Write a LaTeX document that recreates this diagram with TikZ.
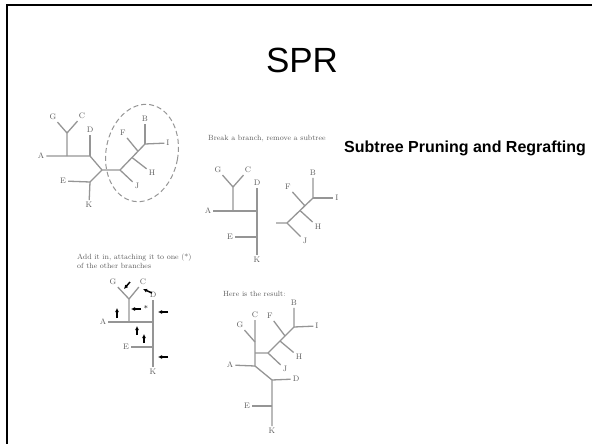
\documentclass[tikz,border=0pt]{standalone}
\usepackage{fontspec}
\setsansfont{Liberation Sans}
\usetikzlibrary{arrows.meta}
\definecolor{sprGrey}{HTML}{959595}
\definecolor{sprText}{HTML}{5E5E5E}

\begin{document}
\begin{tikzpicture}[x=1pt, y=-1pt,
  br/.style={draw=sprGrey, line width=1.3pt},
  lbl/.style={text=sprText, font=\fontsize{8}{9}\selectfont, inner sep=2pt},
  note/.style={text=sprText, font=\fontsize{7.5}{9}\selectfont, inner sep=0pt, align=left},
  mv/.style={-{Latex[length=4pt,width=4pt]}, line width=1.5pt, black}]
  \useasboundingbox (0,0) rectangle (592,444);
  \clip (0,0) rectangle (592,444);
  \draw[line width=2pt] (7,460) -- (7,5) -- (610,5);

  \node[font=\sffamily\fontsize{35}{40}\selectfont, anchor=base] (ttl) at (302,73) {SPR};
  \node[font=\sffamily\bfseries\fontsize{16}{18}\selectfont, anchor=base west, inner sep=0pt] (sub) at (344,152) {Subtree Pruning and Regrafting};

  % original tree
  \coordinate (a1) at (67,156);
  \coordinate (gc1) at (67,133);
  \coordinate (d1) at (90,156);
  \coordinate (x1) at (102,170);
  \coordinate (e1) at (90,182);
  \coordinate (r1) at (120,170);
  \coordinate (h1) at (132,157.5);
  \coordinate (f1) at (138,151.3);
  \coordinate (b1) at (145,144);
  \node[lbl] (A1) at (41,156) {A};
  \node[lbl] (G1) at (53,117) {G};
  \node[lbl] (C1) at (82,116) {C};
  \node[lbl] (D1) at (90,130) {D};
  \node[lbl] (E1) at (63,181) {E};
  \node[lbl] (K1) at (89,205) {K};
  \node[lbl] (J1) at (137,186) {J};
  \node[lbl] (H1) at (152,173) {H};
  \node[lbl] (F1) at (123,133) {F};
  \node[lbl] (B1) at (145,119) {B};
  \node[lbl] (I1) at (168,143) {I};
  \draw[br] (A1) -- (a1) -- (d1) -- (x1) -- (r1) -- (b1);
  \draw[br] (a1) -- (gc1) -- (G1);
  \draw[br] (gc1) -- (C1);
  \draw[br] (d1) -- (D1);
  \draw[br] (x1) -- (e1) -- (E1);
  \draw[br] (e1) -- (K1);
  \draw[br] (r1) -- (J1);
  \draw[br] (h1) -- (H1);
  \draw[br] (f1) -- (F1);
  \draw[br] (b1) -- (B1);
  \draw[br] (b1) -- (I1);
  \draw[sprGrey, line width=1pt, dash pattern=on 5pt off 3pt, rotate around={-10:(142,153)}]
    (142,153) ellipse [x radius=36, y radius=49];

  % pruned
  \node[note, anchor=west] (brk) at (208,139) {Break a branch, remove a subtree};
  \coordinate (a2) at (233,211);
  \coordinate (gc2) at (233,187);
  \coordinate (d2) at (257,211);
  \coordinate (e2) at (257,237);
  \node[lbl] (A2) at (208,211) {A};
  \node[lbl] (G2) at (218,170) {G};
  \node[lbl] (C2) at (248,170) {C};
  \node[lbl] (D2) at (257,183) {D};
  \node[lbl] (E2) at (230,237) {E};
  \node[lbl] (K2) at (257,260) {K};
  \draw[br] (A2) -- (a2) -- (d2) -- (e2) -- (K2);
  \draw[br] (a2) -- (gc2) -- (G2);
  \draw[br] (gc2) -- (C2);
  \draw[br] (d2) -- (D2);
  \draw[br] (e2) -- (E2);
  \coordinate (s2) at (276,223);
  \coordinate (r2) at (287,223);
  \coordinate (h2) at (300,210.5);
  \coordinate (f2) at (305,206);
  \coordinate (b2) at (313,198);
  \node[lbl] (J2) at (305,241) {J};
  \node[lbl] (H2) at (318,227) {H};
  \node[lbl] (F2) at (288,187) {F};
  \node[lbl] (B2) at (313,173) {B};
  \node[lbl] (I2) at (337,198) {I};
  \draw[br] (s2) -- (r2) -- (b2) -- (B2);
  \draw[br] (r2) -- (J2);
  \draw[br] (h2) -- (H2);
  \draw[br] (f2) -- (F2);
  \draw[br] (b2) -- (I2);

  % attach
  \node[note, anchor=west] (add) at (77,261.5) {Add it in, attaching it to one (*)\\of the other branches};
  \coordinate (a3) at (129,322);
  \coordinate (gc3) at (129,299);
  \coordinate (d3) at (153,322);
  \coordinate (e3) at (153,347);
  \node[lbl] (A3) at (103,322) {A};
  \node[lbl] (G3) at (113,282) {G};
  \node[lbl] (C3) at (143,282) {C};
  \node[lbl] (D3) at (153,295) {D};
  \node[lbl] (E3) at (126,347) {E};
  \node[lbl] (K3) at (153,372) {K};
  \draw[br] (A3) -- (a3) -- (d3) -- (e3) -- (K3);
  \draw[br] (a3) -- (gc3) -- (G3);
  \draw[br] (gc3) -- (C3);
  \draw[br] (d3) -- (D3);
  \draw[br] (e3) -- (E3);
  \draw[mv] (130,282) -- (124,289);
  \draw[mv] (152,293) -- (143,289);
  \draw[mv] (141,309) -- (131,309);
  \node[lbl, text=black] (star) at (146,308) {*};
  \draw[mv] (168,312) -- (158,312);
  \draw[mv] (117,318) -- (117,308);
  \draw[mv] (137,335) -- (137,326);
  \draw[mv] (144,343) -- (144,334);
  \draw[mv] (168,357) -- (158,357);

  % result
  \node[note, anchor=west] (res) at (223,294) {Here is the result:};
  \coordinate (gc4) at (255,342);
  \coordinate (s4) at (255,353);
  \coordinate (a4) at (255,366);
  \coordinate (x4) at (272,380);
  \coordinate (e4) at (272,406);
  \coordinate (r4) at (268,353);
  \coordinate (h4) at (280,341);
  \coordinate (f4) at (285,336);
  \coordinate (b4) at (294,327);
  \node[lbl] (C4) at (255,315) {C};
  \node[lbl] (G4) at (240,325) {G};
  \node[lbl] (A4) at (230,365) {A};
  \node[lbl] (D4) at (296,379) {D};
  \node[lbl] (E4) at (247,406) {E};
  \node[lbl] (K4) at (272,431) {K};
  \node[lbl] (J4) at (285,369) {J};
  \node[lbl] (H4) at (299,357) {H};
  \node[lbl] (F4) at (270,316) {F};
  \node[lbl] (B4) at (294,303) {B};
  \node[lbl] (I4) at (317,326) {I};
  \draw[br] (C4) -- (gc4) -- (s4) -- (a4) -- (x4) -- (e4) -- (K4);
  \draw[br] (gc4) -- (G4);
  \draw[br] (a4) -- (A4);
  \draw[br] (x4) -- (D4);
  \draw[br] (e4) -- (E4);
  \draw[br] (s4) -- (r4) -- (b4) -- (B4);
  \draw[br] (r4) -- (J4);
  \draw[br] (h4) -- (H4);
  \draw[br] (f4) -- (F4);
  \draw[br] (b4) -- (I4);
\end{tikzpicture}
\end{document}
